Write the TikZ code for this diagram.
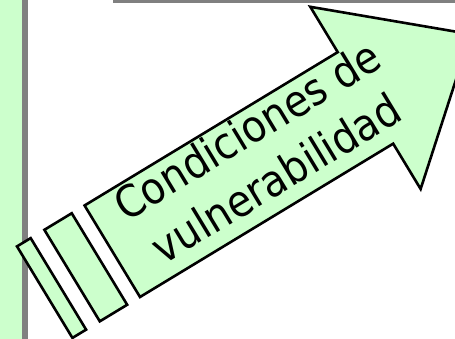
\documentclass[tikz,border=0pt]{standalone}
\usepackage{fontspec}
\newfontfamily\arrowfont{DejaVu Sans Condensed}
\definecolor{lightgreen}{HTML}{CCFFCC}
\definecolor{framegray}{HTML}{808080}
\tikzset{
  greenshape/.style={fill=lightgreen, draw=black, line width=2.6pt, line join=miter},
  arrowtext/.style={font=\arrowfont\fontsize{44}{56}\selectfont, inner sep=0pt, align=center, anchor=base, rotate=31.2}
}
\begin{document}
\begin{tikzpicture}[x=1pt,y=1pt]
\useasboundingbox (0,0) rectangle (455,339);
\clip (0,0) rectangle (455,339);
% left band
\fill[lightgreen] (0,0) rectangle (22,339);
\fill[framegray] (22,0) rectangle (28,339);
% top bar
\fill[framegray] (113,336) rectangle (455,339);
% arrow in rotated frame
\begin{scope}[shift={(140,42)}, rotate=31.2]
  \draw[greenshape] (-79,0) rectangle (-63,107);
  \draw[greenshape] (-47,0) rectangle (-15,107);
  \draw[greenshape] (0,0) -- (296,0) -- (296,-53) -- (419,53.5) -- (296,160) -- (296,107) -- (0,107) -- cycle;
  \node[arrowtext] (label) at (178,15) {Condiciones de\\vulnerabilidad};
\end{scope}
\end{tikzpicture}
\end{document}
